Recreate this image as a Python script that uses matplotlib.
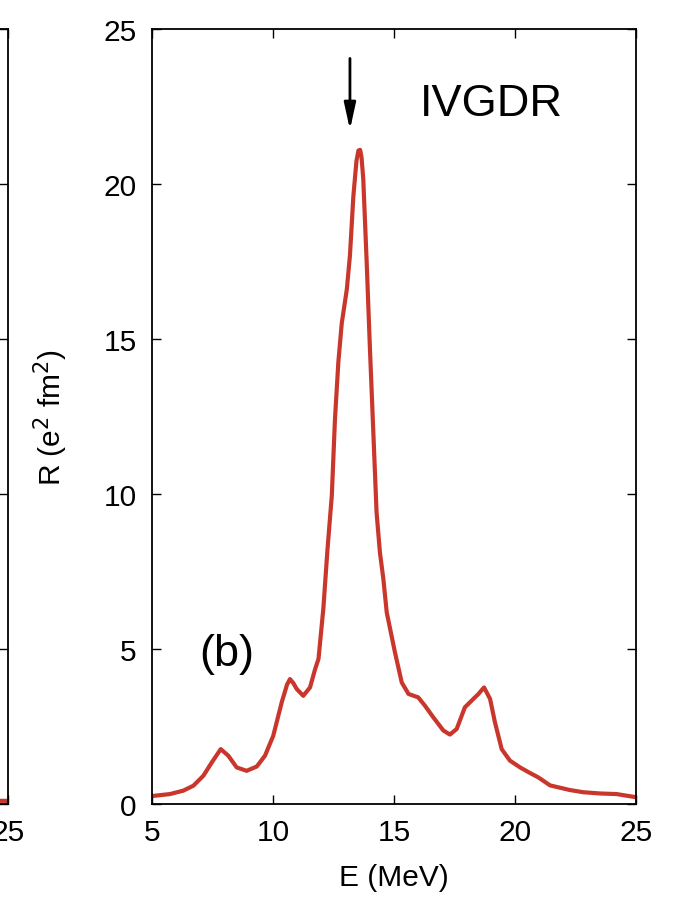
import matplotlib
matplotlib.use('Agg')
import matplotlib.pyplot as plt

plt.rcParams['font.family'] = ['Liberation Sans', 'DejaVu Sans']

# Curve (E in MeV, R in e^2 fm^2)
energy = [4.92, 5.74, 6.29, 6.71, 7.12, 7.47, 7.84, 8.15, 8.5, 8.91, 9.33, 9.67,
          10.01, 10.36, 10.58, 10.70, 10.84, 10.98, 11.25, 11.53, 11.74, 11.88, 12.08,
          12.25, 12.43, 12.56, 12.7, 12.84, 13.05, 13.18, 13.32, 13.45, 13.53, 13.6,
          13.66, 13.73, 13.87, 14.0, 14.14, 14.28, 14.42, 14.56, 14.70, 15.04, 15.32,
          15.6, 16.0, 16.28, 16.62, 17.04, 17.31, 17.59, 17.93, 18.28, 18.49, 18.72,
          18.97, 19.17, 19.45, 19.79, 20.21, 20.62, 20.96, 21.45, 22.27, 22.82, 23.5,
          24.2, 25.0]
response = [0.25, 0.32, 0.43, 0.59, 0.91, 1.34, 1.77, 1.56, 1.18, 1.07, 1.21, 1.56,
            2.2, 3.28, 3.85, 4.03, 3.9, 3.71, 3.49, 3.76, 4.35, 4.68, 6.3,
            8.2, 9.95, 12.4, 14.25, 15.5, 16.6, 17.7, 19.6, 20.75, 21.08, 21.1,
            20.85, 20.16, 17.5, 14.8, 12.1, 9.4, 8.1, 7.26, 6.18, 4.89, 3.92,
            3.55, 3.44, 3.17, 2.8, 2.37, 2.24, 2.42, 3.12, 3.39, 3.55, 3.76,
            3.39, 2.64, 1.77, 1.4, 1.18, 1.0, 0.86, 0.6, 0.45, 0.38, 0.34,
            0.32, 0.22]

# tail of the neighbouring panel (a), only its right end is visible
energy_a = [20.0, 22.5, 25.0]
response_a = [0.15, 0.12, 0.1]

xticks = [5, 10, 15, 20, 25]
yticks = [0, 5, 10, 15, 20, 25]

red = '#c9372c'
W, H = 684, 904

fig = plt.figure(figsize=(W / 100, H / 100), dpi=100)


def style(ax):
    ax.set_xlim(5, 25)
    ax.set_ylim(0, 25)
    ax.set_xticks(xticks)
    ax.set_yticks(yticks)
    ax.tick_params(direction='in', length=6.5, width=1.0, top=True, right=True,
                   labelsize=21.5, pad=11)
    ax.tick_params(axis='x', pad=10)
    for s in ax.spines.values():
        s.set_linewidth(1.3)


# panel (a), cut off at the left edge
ax0 = fig.add_axes([(8 - 484) / W, 1 - 805 / H, 484 / W, 775 / H])
style(ax0)
ax0.set_yticklabels([])
ax0.plot(energy_a, response_a, color=red, lw=3)

# panel (b)
ax = fig.add_axes([152 / W, 1 - 805 / H, 484 / W, 775 / H])
style(ax)
ax.plot(energy, response, color=red, lw=3, solid_capstyle='round',
        solid_joinstyle='round')

ax.set_xlabel('E (MeV)', fontsize=21.5, labelpad=12)
ax.set_ylabel(r'R (e$^2$ fm$^2$)', fontsize=21.5, labelpad=24)

ax.annotate('', xy=(13.18, 21.75), xytext=(13.18, 24.05),
            arrowprops=dict(arrowstyle='-|>,head_length=1.6,head_width=0.35',
                            color='black', lw=2, shrinkA=0, shrinkB=0))
ax.text(16.05, 22.6, 'IVGDR', fontsize=32.5, va='center', ha='left')
ax.text(6.95, 4.85, '(b)', fontsize=32.5, va='center', ha='left')

fig.savefig('out.png', dpi=100)
